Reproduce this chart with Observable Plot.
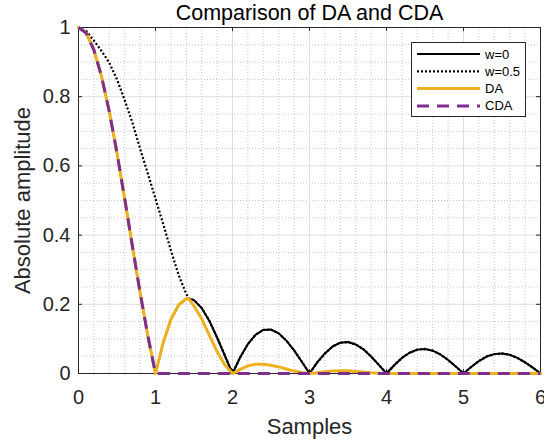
<!DOCTYPE html>
<html>
<head>
<meta charset="utf-8">
<script src="https://cdn.jsdelivr.net/npm/d3@7"></script>
<script src="https://cdn.jsdelivr.net/npm/@observablehq/plot@0.6"></script>
<style>
  html, body { margin: 0; padding: 0; background: #fff; }
  #chart { width: 544px; height: 444px; overflow: hidden; }
  #chart svg { display: block; }
</style>
</head>
<body>
<div id="chart"></div>
<script>
// Sample positions (in samples) shared by every curve
const sampleX = [
  0, 0.1, 0.2, 0.3, 0.4, 0.5, 0.6, 0.7, 0.8, 0.9,
  1.0, 1.1, 1.2, 1.3, 1.4, 1.43, 1.5, 1.6, 1.7, 1.8, 1.9,
  2.0, 2.1, 2.2, 2.3, 2.4, 2.5, 2.6, 2.7, 2.8, 2.9,
  3.0, 3.1, 3.2, 3.3, 3.4, 3.5, 3.6, 3.7, 3.8, 3.9,
  4.0, 4.1, 4.2, 4.3, 4.4, 4.5, 4.6, 4.7, 4.8, 4.9,
  5.0, 5.1, 5.2, 5.3, 5.4, 5.5, 5.6, 5.7, 5.8, 5.9, 6.0
];

// Absolute amplitude, w = 0
const ampW0 = [
  1.000, 0.984, 0.935, 0.858, 0.757, 0.637, 0.505, 0.368, 0.234, 0.109,
  0.000, 0.089, 0.156, 0.198, 0.216, 0.217, 0.212, 0.189, 0.152, 0.104, 0.052,
  0.000, 0.047, 0.085, 0.112, 0.126, 0.127, 0.116, 0.095, 0.067, 0.034,
  0.000, 0.032, 0.058, 0.078, 0.089, 0.091, 0.084, 0.070, 0.049, 0.025,
  0.000, 0.024, 0.045, 0.060, 0.069, 0.071, 0.066, 0.055, 0.039, 0.020,
  0.000, 0.019, 0.036, 0.049, 0.056, 0.058, 0.054, 0.045, 0.032, 0.017, 0.000
];

// Absolute amplitude, w = 0.5
const ampW05 = [
  1.000, 0.990, 0.962, 0.932, 0.898, 0.850, 0.790, 0.725, 0.650, 0.578,
  0.505, 0.432, 0.356, 0.285, 0.230, 0.217, 0.212, 0.189, 0.152, 0.104, 0.052,
  0.000, 0.047, 0.085, 0.112, 0.126, 0.127, 0.116, 0.095, 0.067, 0.034,
  0.000, 0.032, 0.058, 0.078, 0.089, 0.091, 0.084, 0.070, 0.049, 0.025,
  0.000, 0.024, 0.045, 0.060, 0.069, 0.071, 0.066, 0.055, 0.039, 0.020,
  0.000, 0.019, 0.036, 0.049, 0.056, 0.058, 0.054, 0.045, 0.032, 0.017, 0.000
];

// Absolute amplitude, DA
const ampDA = [
  1.000, 0.984, 0.935, 0.858, 0.757, 0.637, 0.505, 0.368, 0.234, 0.109,
  0.000, 0.089, 0.156, 0.198, 0.216, 0.217, 0.195, 0.158, 0.110, 0.063, 0.025,
  0.000, 0.012, 0.022, 0.027, 0.027, 0.024, 0.019, 0.013, 0.007, 0.003,
  0.000, 0.002, 0.005, 0.007, 0.008, 0.008, 0.006, 0.004, 0.002, 0.001,
  0.000, 0.000, 0.000, 0.000, 0.000, 0.000, 0.000, 0.000, 0.000, 0.000,
  0.000, 0.000, 0.000, 0.000, 0.000, 0.000, 0.000, 0.000, 0.000, 0.000, 0.000
];

// Absolute amplitude, CDA
const ampCDA = [
  1.000, 0.984, 0.935, 0.858, 0.757, 0.637, 0.505, 0.368, 0.234, 0.109,
  0.000, 0.000, 0.000, 0.000, 0.000, 0.000, 0.000, 0.000, 0.000, 0.000, 0.000,
  0.000, 0.000, 0.000, 0.000, 0.000, 0.000, 0.000, 0.000, 0.000, 0.000,
  0.000, 0.000, 0.000, 0.000, 0.000, 0.000, 0.000, 0.000, 0.000, 0.000,
  0.000, 0.000, 0.000, 0.000, 0.000, 0.000, 0.000, 0.000, 0.000, 0.000,
  0.000, 0.000, 0.000, 0.000, 0.000, 0.000, 0.000, 0.000, 0.000, 0.000, 0.000
];

const seriesNames = ["w=0", "w=0.5", "DA", "CDA"];
const seriesValues = [ampW0, ampW05, ampDA, ampCDA];
const seriesColors = ["#000000", "#000000", "#EDB120", "#7E2F8E"];
const seriesWidths = [2, 2.2, 3, 3];
const seriesDashes = [null, "2,2", null, "12,8"];

const xTicks = [0, 1, 2, 3, 4, 5, 6];
const yTicks = [0, 0.2, 0.4, 0.6, 0.8, 1];
const xMinorTicks = [0.2, 0.4, 0.6, 0.8, 1.2, 1.4, 1.6, 1.8, 2.2, 2.4, 2.6, 2.8,
  3.2, 3.4, 3.6, 3.8, 4.2, 4.4, 4.6, 4.8, 5.2, 5.4, 5.6, 5.8];
const yMinorTicks = [0.05, 0.1, 0.15, 0.25, 0.3, 0.35, 0.45, 0.5, 0.55,
  0.65, 0.7, 0.75, 0.85, 0.9, 0.95];

const titleText = "Comparison of DA and CDA";
const xLabel = "Samples";
const yLabel = "Absolute amplitude";

// Layout
const W = 544, H = 444;
const mL = 78, mR = 4, mT = 27, mB = 71;
const innerW = W - mL - mR, innerH = H - mT - mB;
const tickLen = 4;
const axisColor = "#262626";
const font = "'Liberation Sans', Arial, Helvetica, sans-serif";
const fmt = d => `${d}`;

const rows = seriesNames.map((name, i) =>
  sampleX.map((x, j) => ({x, y: seriesValues[i][j], name}))
);

const lineMarks = seriesNames.map((name, i) =>
  Plot.line(rows[i], {
    x: "x", y: "y",
    stroke: seriesColors[i],
    strokeWidth: seriesWidths[i],
    strokeDasharray: seriesDashes[i],
    strokeLinejoin: "round",
    strokeLinecap: seriesDashes[i] ? "butt" : "round"
  })
);

const chart = Plot.plot({
  width: W, height: H,
  marginLeft: mL, marginRight: mR, marginTop: mT, marginBottom: mB,
  style: {fontFamily: font, background: "#fff", color: axisColor},
  x: {domain: [0, 6]},
  y: {domain: [0, 1]},
  marks: [
    // minor grid (dotted) and major grid (solid)
    Plot.gridX(xMinorTicks, {stroke: "#c4c4c4", strokeOpacity: 1, strokeDasharray: "1,2"}),
    Plot.gridY(yMinorTicks, {stroke: "#c4c4c4", strokeOpacity: 1, strokeDasharray: "1,2"}),
    Plot.gridX(xTicks, {stroke: "#dedede", strokeOpacity: 1}),
    Plot.gridY(yTicks, {stroke: "#dedede", strokeOpacity: 1}),
    // tick labels
    Plot.axisX(xTicks, {tickSize: 0, tickPadding: 16, fontSize: 20, label: null, fill: axisColor, tickFormat: fmt}),
    Plot.axisY(yTicks, {tickSize: 0, tickPadding: 8, fontSize: 20, label: null, fill: axisColor, tickFormat: fmt}),
    // inward ticks on all four sides
    Plot.ruleX(xTicks, {x: d => d, insetTop: innerH - tickLen, stroke: axisColor}),
    Plot.ruleX(xTicks, {x: d => d, insetBottom: innerH - tickLen, stroke: axisColor}),
    Plot.ruleY(yTicks, {y: d => d, insetRight: innerW - tickLen, stroke: axisColor}),
    Plot.ruleY(yTicks, {y: d => d, insetLeft: innerW - tickLen, stroke: axisColor}),
    Plot.frame({stroke: axisColor, strokeWidth: 1}),
    ...lineMarks,
    // title and axis labels
    Plot.text([titleText], {frameAnchor: "top", lineAnchor: "middle", textAnchor: "middle", dy: -14.5, fontSize: 21.5, fill: "#000"}),
    Plot.text([xLabel], {frameAnchor: "bottom", lineAnchor: "middle", textAnchor: "middle", dy: 53, fontSize: 22, fill: axisColor}),
    Plot.text([yLabel], {frameAnchor: "left", lineAnchor: "middle", textAnchor: "middle", dx: -56, rotate: -90, fontSize: 22, fill: axisColor})
  ]
});

// Legend box in the upper-right corner of the axes
const svg = d3.select(chart);
const legW = 114, legH = 74;
const legX = W - mR - 15 - legW, legY = mT + 15;
const leg = svg.append("g").attr("transform", `translate(${legX},${legY})`);
leg.append("rect")
  .attr("x", 0.5).attr("y", 0.5)
  .attr("width", legW).attr("height", legH)
  .attr("fill", "#fff").attr("stroke", axisColor).attr("stroke-width", 1);
seriesNames.forEach((name, i) => {
  const cy = 12 + i * 17.3;
  leg.append("line")
    .attr("x1", 6).attr("x2", 69).attr("y1", cy).attr("y2", cy)
    .attr("stroke", seriesColors[i])
    .attr("stroke-width", seriesWidths[i])
    .attr("stroke-dasharray", seriesDashes[i]);
  leg.append("text")
    .attr("x", 74).attr("y", cy).attr("dy", "0.35em")
    .attr("text-anchor", "start")
    .attr("font-size", 13).attr("font-family", font)
    .attr("fill", "#000")
    .text(name);
});

document.getElementById("chart").appendChild(chart);
</script>
</body>
</html>
